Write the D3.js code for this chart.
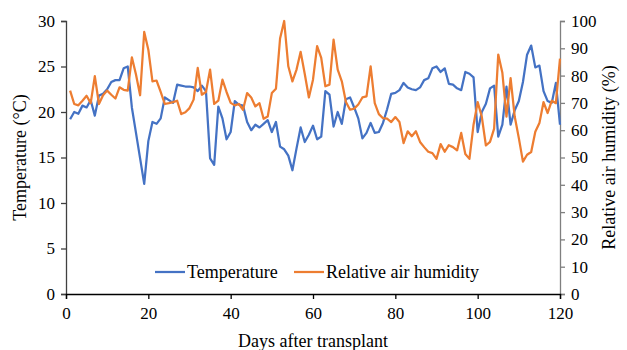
<!DOCTYPE html>
<html>
<head>
<meta charset="utf-8">
<script src="https://cdn.jsdelivr.net/npm/d3@7"></script>
<style>
  body { margin: 0; background: #fff; }
  svg text { font-family: "Liberation Serif", "Times New Roman", serif; fill: #000; }
</style>
</head>
<body>
<script>
// daily readings, days 1..120
const days = d3.range(1, 121);
const temperature = [
  19.2, 20.0, 19.8, 20.7, 20.5, 21.3, 19.6, 21.8, 22.0, 22.5,
  23.3, 23.5, 23.5, 24.8, 25.0, 20.5, 17.7, 14.9, 12.1, 16.8,
  18.9, 18.7, 19.3, 21.6, 21.3, 21.0, 23.0, 22.9, 22.8, 22.8,
  22.7, 22.3, 22.9, 22.3, 14.9, 14.2, 20.6, 19.3, 17.0, 17.8,
  21.2, 20.8, 20.7, 18.9, 18.0, 18.6, 18.3, 18.7, 19.1, 17.8,
  18.9, 16.2, 15.9, 15.2, 13.6, 16.0, 18.3, 16.7, 17.5, 18.5,
  17.0, 17.3, 22.3, 21.9, 18.4, 20.0, 18.7, 21.4, 21.6, 20.5,
  19.3, 17.1, 17.7, 18.8, 17.7, 17.8, 18.8, 20.3, 22.0, 22.1,
  22.4, 23.2, 22.7, 22.5, 22.4, 22.7, 23.5, 23.7, 24.8, 25.0,
  24.4, 24.8, 23.1, 23.0, 22.6, 22.4, 24.4, 24.2, 23.8, 17.8,
  20.0, 20.9, 22.6, 22.9, 17.3, 18.6, 22.8, 18.6, 20.2, 21.2,
  23.3, 26.3, 27.3, 24.9, 25.1, 22.3, 21.2, 21.0, 23.2, 18.6
];
const humidity = [
  74.5, 69.6, 69.1, 70.8, 72.6, 69.9, 79.8, 69.6, 72.8, 74.5,
  73.0, 71.6, 75.7, 74.8, 74.5, 86.7, 80.4, 72.8, 96.0, 89.5,
  77.9, 78.2, 74.0, 69.6, 69.9, 70.3, 70.8, 65.9, 66.6, 68.1,
  71.2, 82.8, 73.0, 74.0, 82.2, 69.6, 70.8, 78.5, 74.0, 70.0,
  69.1, 69.6, 67.5, 73.6, 72.0, 68.7, 69.9, 64.2, 65.0, 73.6,
  75.2, 93.6, 100.0, 83.4, 77.9, 82.2, 88.7, 80.6, 72.0, 78.5,
  90.8, 86.5, 76.1, 76.7, 93.2, 82.2, 77.9, 70.3, 67.5, 67.9,
  69.4, 72.0, 72.4, 83.4, 69.9, 65.9, 64.4, 64.2, 63.0, 64.8,
  63.0, 55.3, 59.6, 57.8, 59.6, 55.7, 53.8, 52.1, 51.6, 49.5,
  54.9, 52.1, 54.5, 53.8, 52.6, 59.0, 51.3, 49.5, 62.0, 70.3,
  65.0, 54.4, 55.7, 60.6, 87.7, 81.0, 65.0, 79.1, 65.0, 57.1,
  48.5, 51.0, 52.0, 59.4, 62.6, 70.3, 66.3, 70.8, 69.9, 86.2
];
const xTicks = [0, 20, 40, 60, 80, 100, 120];
const tempTicks = [0, 5, 10, 15, 20, 25, 30];
const humTicks = [0, 10, 20, 30, 40, 50, 60, 70, 80, 90, 100];
const seriesNames = ["Temperature", "Relative air humidity"];
const seriesColors = ["#4472C4", "#ED7D31"];

const W = 627, H = 350;
const m = { left: 66, right: 67, top: 21, bottom: 56 };

const svg = d3.select("body").append("svg")
  .attr("width", W).attr("height", H);

const x = d3.scaleLinear().domain([0, 120]).range([m.left, W - m.right]);
const yT = d3.scaleLinear().domain([0, 30]).range([H - m.bottom, m.top]);
const yH = d3.scaleLinear().domain([0, 100]).range([H - m.bottom, m.top]);

// axes
const styleAxis = (g, color) => {
  g.select(".domain").attr("stroke", color).attr("stroke-width", 1.3);
  g.selectAll(".tick line").attr("stroke", color).attr("stroke-width", 1.3);
  g.selectAll(".tick text").style("font-size", "17px");
};

svg.append("g")
  .attr("transform", `translate(${m.left},0)`)
  .call(d3.axisLeft(yT).tickValues(tempTicks).tickSizeOuter(0).tickSize(5).tickPadding(6))
  .call(g => styleAxis(g, "#404040"));

svg.append("g")
  .attr("transform", `translate(${W - m.right},0)`)
  .call(d3.axisRight(yH).tickValues(humTicks).tickSizeOuter(0).tickSize(5).tickPadding(6))
  .call(g => styleAxis(g, "#7f7f7f"));

svg.append("g")
  .attr("transform", `translate(0,${H - m.bottom})`)
  .call(d3.axisBottom(x).tickValues(xTicks).tickSizeOuter(0).tickSize(5).tickPadding(8))
  .call(g => styleAxis(g, "#000"));

// lines
const lineT = d3.line().x((d, i) => x(days[i])).y(d => yT(d));
const lineH = d3.line().x((d, i) => x(days[i])).y(d => yH(d));

svg.append("path").datum(temperature)
  .attr("d", lineT).attr("fill", "none")
  .attr("stroke", seriesColors[0]).attr("stroke-width", 2.25)
  .attr("stroke-linejoin", "round");

svg.append("path").datum(humidity)
  .attr("d", lineH).attr("fill", "none")
  .attr("stroke", seriesColors[1]).attr("stroke-width", 2.25)
  .attr("stroke-linejoin", "round");

// axis titles
svg.append("text")
  .attr("transform", `translate(26,${(m.top + H - m.bottom) / 2}) rotate(-90)`)
  .attr("text-anchor", "middle")
  .style("font-size", "18px")
  .text("Temperature (°C)");

svg.append("text")
  .attr("transform", `translate(615,${(m.top + H - m.bottom) / 2}) rotate(-90)`)
  .attr("text-anchor", "middle")
  .style("font-size", "18px")
  .text("Relative air humidity (%)");

svg.append("text")
  .attr("x", (m.left + W - m.right) / 2).attr("y", 347)
  .attr("text-anchor", "middle")
  .style("font-size", "18px")
  .text("Days after transplant");

// legend
const legendX = [155, 294];
const legend = svg.append("g");
seriesNames.forEach((name, i) => {
  legend.append("line")
    .attr("x1", legendX[i]).attr("x2", legendX[i] + 30)
    .attr("y1", 272).attr("y2", 272)
    .attr("stroke", seriesColors[i]).attr("stroke-width", 2.25);
  legend.append("text")
    .attr("x", legendX[i] + 32).attr("y", 278)
    .style("font-size", "18px")
    .text(name);
});
</script>
</body>
</html>
